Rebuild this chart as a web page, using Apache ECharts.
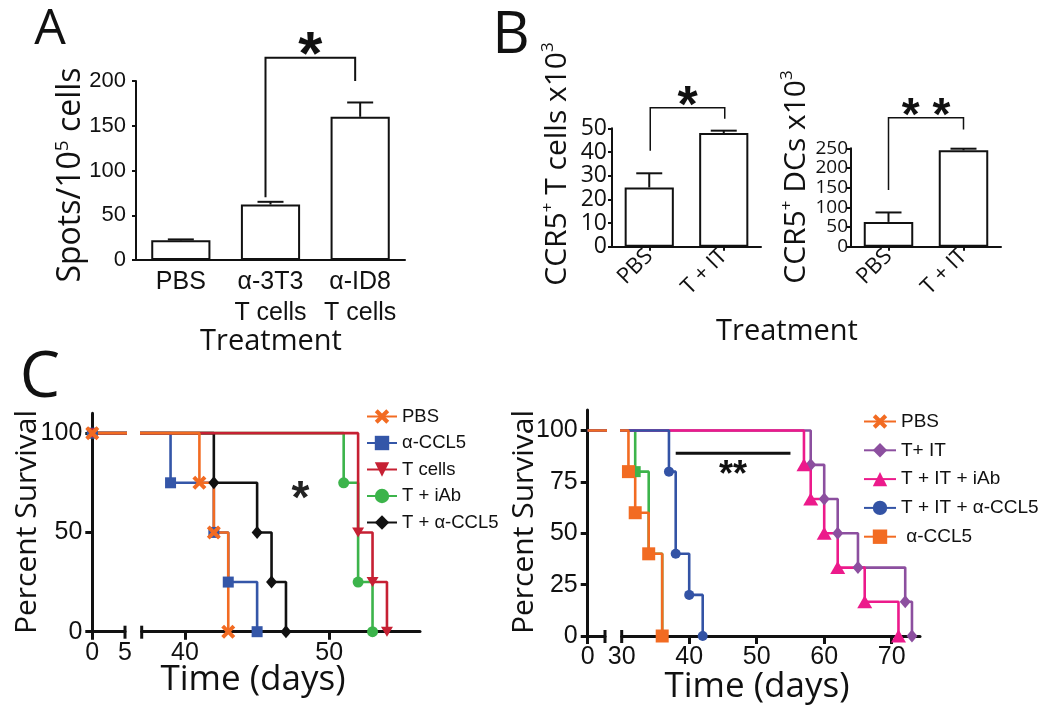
<!DOCTYPE html>
<html>
<head>
<meta charset="utf-8">
<script src="https://cdn.jsdelivr.net/npm/echarts@6/dist/echarts.min.js"></script>
<style>
  html, body { margin: 0; padding: 0; background: #fff; }
  #chart { width: 1050px; height: 717px; }
</style>
</head>
<body>
<div id="chart"></div>
<script>
// ---- panel A: ELISPOT ----
const catsA = ['PBS', 'α-3T3\nT cells', 'α-ID8\nT cells'];
const meanA = [22, 62, 160];
const errTopA = [23, 65, 176];

// ---- panel B: CCR5+ cells ----
const catsB = ['PBS', 'T + IT'];
const meanTcells = [25, 48];
const errTopTcells = [31, 49];
const meanDCs = [63, 245];
const errTopDCs = [87, 249];
const ticksTcells = [0, 10, 20, 30, 40, 50];
const ticksDCs = [0, 50, 100, 150, 200, 250];

// ---- panel C left: survival, [day, percent] ----
const namesCL = ['PBS', 'α-CCL5', 'T cells', 'T + iAb', 'T + α-CCL5'];
const survPBS = [[0, 100], [41, 75], [42, 50], [43, 0]];
const survCCL5 = [[0, 100], [39, 75], [42, 50], [43, 25], [45, 0]];
const survTcells = [[0, 100], [52, 50], [53, 25], [54, 0]];
const survTiAb = [[0, 100], [51, 75], [52, 25], [53, 0]];
const survTCCL5 = [[0, 100], [42, 75], [45, 50], [46, 25], [47, 0]];
const ticksCLy = [0, 50, 100];
const ticksCLx1 = [0, 5];
const ticksCLx2 = [40, 50];

// ---- panel C right ----
const namesCR = ['PBS', 'T+ IT', 'T + IT + iAb', 'T + IT + α-CCL5', ' α-CCL5'];
const survR_PBS = [[0, 100], [32, 80], [34, 40], [36, 0]];
const survR_TIT = [[0, 100], [58, 83.3], [60, 66.7], [62, 50], [65, 33.3], [72, 16.7], [73, 0]];
const survR_TITiAb = [[0, 100], [57, 83.3], [58, 66.7], [60, 50], [62, 33.3], [66, 16.7], [71, 0]];
const survR_TITCCL5 = [[0, 100], [37, 80], [38, 40], [40, 20], [42, 0]];
const survR_CCL5 = [[0, 100], [31, 80], [32, 60], [34, 40], [36, 0]];
const ticksCRy = [0, 25, 50, 75, 100];
const ticksCRx2 = [30, 40, 50, 60, 70];

const INK = '#111';
const ARIAL = 'Liberation Sans';
const MYRIAD = 'Open Sans';

const X_PATH = 'path://M0,2 L2,0 L5,3 L8,0 L10,2 L7,5 L10,8 L8,10 L5,7 L2,10 L0,8 L3,5 Z';
const TRI_DOWN = 'path://M0,0 L10,0 L5,9 Z';

const chart = echarts.init(document.getElementById('chart'), null, { renderer: 'canvas' });

function barYAxis(gi, max, ticks, fontSize, family, margin) {
  return {
    gridIndex: gi, type: 'value', min: 0, max: max,
    axisLine: { show: true, lineStyle: { color: INK, width: 2 } },
    axisTick: { show: true, length: 4, customValues: ticks, lineStyle: { color: INK, width: 2 } },
    splitLine: { show: false },
    axisLabel: { customValues: ticks, color: INK, fontSize: fontSize, fontFamily: family, margin: margin, lineHeight: fontSize * 0.85, hideOverlap: false }
  };
}

function catXAxis(gi, cats, opts) {
  return Object.assign({
    gridIndex: gi, type: 'category', data: cats,
    axisLine: { lineStyle: { color: INK, width: 2 } },
    axisTick: { show: false },
    splitLine: { show: false }
  }, opts);
}

function survXAxis(gi, min, max, tickVals, labelVals) {
  return {
    gridIndex: gi, type: 'value', min: min, max: max,
    axisLine: { lineStyle: { color: INK, width: 3 } },
    axisTick: { show: true, length: 8, customValues: tickVals, lineStyle: { color: INK, width: 3 } },
    axisLabel: { customValues: labelVals, color: INK, fontSize: 25, fontFamily: ARIAL, margin: 9 },
    splitLine: { show: false }
  };
}

function survYAxis(gi, vals, visible) {
  return {
    gridIndex: gi, type: 'value', min: 0, max: 110, show: visible,
    axisLine: { show: true, lineStyle: { color: INK, width: 3 } },
    axisTick: { show: true, length: 7, customValues: vals, lineStyle: { color: INK, width: 3 } },
    axisLabel: { customValues: vals, color: INK, fontSize: 25, fontFamily: ARIAL, margin: 10 },
    splitLine: { show: false }
  };
}

function barSeries(i, values) {
  return {
    type: 'bar', xAxisIndex: i, yAxisIndex: i, data: values, barWidth: '66%',
    itemStyle: { color: '#fff', borderColor: INK, borderWidth: 2 }, z: 2
  };
}

function errorBars(i, means, tops) {
  return {
    type: 'custom', xAxisIndex: i, yAxisIndex: i, clip: false, silent: true, z: 3,
    data: means.map((m, k) => [k, m, tops[k]]),
    encode: { x: 0, y: 1 },
    renderItem: (params, api) => {
      const base = api.coord([api.value(0), api.value(1)]);
      const top = api.coord([api.value(0), api.value(2)]);
      const st = { stroke: INK, lineWidth: 2 };
      return {
        type: 'group', children: [
          { type: 'line', shape: { x1: base[0], y1: base[1], x2: top[0], y2: top[1] }, style: st },
          { type: 'line', shape: { x1: top[0] - 13, y1: top[1], x2: top[0] + 13, y2: top[1] }, style: st }
        ]
      };
    }
  };
}

// significance bracket: [xLeft, yLeftEnd, xRight, yRightEnd, yTop]
function bracket(i, row, label, fontSize, dx, lift, lw) {
  return {
    type: 'custom', xAxisIndex: i, yAxisIndex: i, clip: false, silent: true, z: 4,
    data: [row],
    encode: { x: 0, y: 1 },
    renderItem: (params, api) => {
      const l0 = api.coord([api.value(0), api.value(1)]);
      const r0 = api.coord([api.value(2), api.value(3)]);
      const lt = api.coord([api.value(0), api.value(4)]);
      const rt = api.coord([api.value(2), api.value(4)]);
      const pts = [[l0[0] + dx, l0[1]], [lt[0] + dx, lt[1]], [rt[0] + dx, rt[1]], [r0[0] + dx, r0[1]]];
      return {
        type: 'group', children: [
          { type: 'polyline', shape: { points: pts }, style: { stroke: INK, lineWidth: lw, fill: null } },
          {
            type: 'text', x: (lt[0] + rt[0]) / 2 + dx, y: lt[1] - lift,
            style: { text: label, font: 'bold ' + fontSize + 'px ' + ARIAL, fill: INK, align: 'center', verticalAlign: 'middle' }
          }
        ]
      };
    }
  };
}

function starText(i, x, y, label, fontSize) {
  return {
    type: 'custom', xAxisIndex: i, yAxisIndex: i, clip: false, silent: true, z: 4,
    data: [[x, y]],
    renderItem: (params, api) => {
      const p = api.coord([api.value(0), api.value(1)]);
      return {
        type: 'text', x: p[0], y: p[1] + fontSize * 0.22,
        style: { text: label, font: 'bold ' + fontSize + 'px ' + ARIAL, fill: '#222', align: 'center', verticalAlign: 'middle' }
      };
    }
  };
}

function breakCaps(i, xs) {
  return {
    type: 'custom', xAxisIndex: i, yAxisIndex: i, clip: false, silent: true, z: 6,
    data: xs.map(x => [x, 0]),
    renderItem: (params, api) => {
      const p = api.coord([api.value(0), 0]);
      return { type: 'line', shape: { x1: p[0], y1: p[1] - 6, x2: p[0], y2: p[1] + 7 }, style: { stroke: INK, lineWidth: 3 } };
    }
  };
}

function buildSurv(defs, axisBase) {
  const list = [];
  defs.forEach(d => {
    [0, 1].forEach(seg => {
      const idx = axisBase + seg;
      list.push({
        type: 'line', name: d.name, xAxisIndex: idx, yAxisIndex: idx,
        step: 'end', clip: true,
        data: d.data.map((p, k) => (k === 0 && d.hideFirst) ? { value: p, symbol: 'none' } : p),
        symbol: d.symbol, symbolSize: d.size, symbolKeepAspect: true, showSymbol: true,
        lineStyle: { color: d.color, width: 2.6 },
        itemStyle: { color: d.color },
        z: 3
      });
    });
  });
  return list;
}

// draw order bottom -> top
const leftDefs = [
  { name: 'T + iAb', data: survTiAb, color: '#3cb44b', symbol: 'circle', size: 11 },
  { name: 'T + α-CCL5', data: survTCCL5, color: '#111111', symbol: 'diamond', size: [11, 13] },
  { name: 'α-CCL5', data: survCCL5, color: '#3456a8', symbol: 'rect', size: 11 },
  { name: 'T cells', data: survTcells, color: '#c62033', symbol: TRI_DOWN, size: [12, 11] },
  { name: 'PBS', data: survPBS, color: '#f26b22', symbol: X_PATH, size: 14 }
];
const rightDefs = [
  { name: 'PBS', data: survR_PBS, color: '#3cb44b', symbol: 'rect', size: 11, hideFirst: true },
  { name: 'T+ IT', data: survR_TIT, color: '#8c4f9f', symbol: 'diamond', size: [11, 13], hideFirst: true },
  { name: 'T + IT + iAb', data: survR_TITiAb, color: '#ec1a8b', symbol: 'triangle', size: [15, 13], hideFirst: true },
  { name: 'T + IT + α-CCL5', data: survR_TITCCL5, color: '#3353a5', symbol: 'circle', size: 10, hideFirst: true },
  { name: ' α-CCL5', data: survR_CCL5, color: '#f26b22', symbol: 'rect', size: 13, hideFirst: true }
];

const option = {
  animation: false,
  backgroundColor: '#fff',
  grid: [
    { left: 136, top: 81, width: 269, height: 179, outerBoundsMode: 'none' },
    { left: 612, top: 128.3, width: 149, height: 118.4, outerBoundsMode: 'none' },
    { left: 851, top: 148.3, width: 150, height: 98.4, outerBoundsMode: 'none' },
    { left: 92.3, top: 413.3, width: 32.7, height: 218.4, outerBoundsMode: 'none' },
    { left: 141.7, top: 413.3, width: 278.3, height: 218.4, outerBoundsMode: 'none' },
    { left: 587.7, top: 410, width: 17.3, height: 226, outerBoundsMode: 'none' },
    { left: 621.7, top: 410, width: 298.3, height: 226, outerBoundsMode: 'none' }
  ],
  xAxis: [
    catXAxis(0, catsA, {
      axisLabel: { color: INK, fontSize: 25, fontFamily: ARIAL, lineHeight: 31, margin: 7, interval: 0 }
    }),
    catXAxis(1, catsB, {
      axisTick: { show: true, alignWithLabel: true, length: 4, lineStyle: { color: INK, width: 2 } },
      axisLabel: { color: INK, fontSize: 22, fontFamily: MYRIAD, rotate: 45, margin: 6, interval: 0 }
    }),
    catXAxis(2, catsB, {
      axisTick: { show: true, alignWithLabel: true, length: 4, lineStyle: { color: INK, width: 2 } },
      axisLabel: { color: INK, fontSize: 22, fontFamily: MYRIAD, rotate: 45, margin: 6, interval: 0 }
    }),
    survXAxis(3, 0, 5, [0], ticksCLx1),
    survXAxis(4, 37, 56.29, ticksCLx2, ticksCLx2),
    survXAxis(5, 0, 2.563, [0], [0]),
    survXAxis(6, 30, 74.19, [40, 50, 60, 70], ticksCRx2)
  ],
  yAxis: [
    barYAxis(0, 200, [0, 50, 100, 150, 200], 22, ARIAL, 10),
    barYAxis(1, 50, ticksTcells, 23, MYRIAD, 5),
    barYAxis(2, 250, ticksDCs, 19, MYRIAD, 3),
    survYAxis(3, ticksCLy, true),
    survYAxis(4, ticksCLy, false),
    survYAxis(5, ticksCRy, true),
    survYAxis(6, ticksCRy, false)
  ],
  legend: [
    {
      data: namesCL, left: 361, top: 402, orient: 'vertical', selectedMode: false,
      itemWidth: 30, itemHeight: 18, itemGap: 7.5,
      textStyle: { color: INK, fontSize: 18.5, fontFamily: ARIAL, lineHeight: 18 }
    },
    {
      data: namesCR, left: 858, top: 407, orient: 'vertical', selectedMode: false,
      itemWidth: 32, itemHeight: 18, itemGap: 9.8,
      textStyle: { color: INK, fontSize: 19, fontFamily: ARIAL, lineHeight: 18 }
    }
  ],
  graphic: [
    { type: 'text', x: 50, y: 30, style: { text: 'A', font: '50px ' + MYRIAD, fill: INK, align: 'center', verticalAlign: 'middle' } },
    { type: 'text', x: 511, y: 36, style: { text: 'B', font: '58px ' + MYRIAD, fill: INK, align: 'center', verticalAlign: 'middle' } },
    { type: 'text', x: 40, y: 379, style: { text: 'C', font: '64px ' + MYRIAD, fill: INK, align: 'center', verticalAlign: 'middle' } },
    { type: 'text', x: 271, y: 342, style: { text: 'Treatment', font: '29px ' + MYRIAD, fill: INK, align: 'center', verticalAlign: 'middle' } },
    { type: 'text', x: 787, y: 332, style: { text: 'Treatment', font: '29px ' + MYRIAD, fill: INK, align: 'center', verticalAlign: 'middle' } },
    { type: 'text', x: 253, y: 680, style: { text: 'Time (days)', font: '35px ' + MYRIAD, fill: INK, align: 'center', verticalAlign: 'middle' } },
    { type: 'text', x: 757, y: 687, style: { text: 'Time (days)', font: '35px ' + MYRIAD, fill: INK, align: 'center', verticalAlign: 'middle' } },
    {
      type: 'text', x: 71, y: 175, rotation: Math.PI / 2,
      style: {
        text: '{b|Spots/10}{s|5}{b| cells}', align: 'center', verticalAlign: 'middle', fill: INK,
        rich: { b: { fontSize: 32, fontFamily: MYRIAD, lineHeight: 36 }, s: { fontSize: 19, fontFamily: MYRIAD, lineHeight: 20, verticalAlign: 'top' } }
      }
    },
    {
      type: 'text', x: 557, y: 164, rotation: Math.PI / 2,
      style: {
        text: '{b|CCR5}{s|+}{b| T cells x10}{s|3}', align: 'center', verticalAlign: 'middle', fill: INK,
        rich: { b: { fontSize: 30, fontFamily: MYRIAD, lineHeight: 34 }, s: { fontSize: 17, fontFamily: MYRIAD, lineHeight: 18, verticalAlign: 'top' } }
      }
    },
    {
      type: 'text', x: 796, y: 177, rotation: Math.PI / 2,
      style: {
        text: '{b|CCR5}{s|+}{b| DCs x10}{s|3}', align: 'center', verticalAlign: 'middle', fill: INK,
        rich: { b: { fontSize: 30, fontFamily: MYRIAD, lineHeight: 34 }, s: { fontSize: 17, fontFamily: MYRIAD, lineHeight: 18, verticalAlign: 'top' } }
      }
    },
    { type: 'text', x: 27, y: 522, rotation: Math.PI / 2, style: { text: 'Percent Survival', font: '30px ' + MYRIAD, fill: INK, align: 'center', verticalAlign: 'middle' } },
    { type: 'text', x: 524, y: 522, rotation: Math.PI / 2, style: { text: 'Percent Survival', font: '30px ' + MYRIAD, fill: INK, align: 'center', verticalAlign: 'middle' } }
  ],
  series: [
    barSeries(0, meanA),
    errorBars(0, meanA, errTopA),
    bracket(0, [1, 70, 2, 200, 226], '*', 62, -5, 1, 2),
    barSeries(1, meanTcells),
    errorBars(1, meanTcells, errTopTcells),
    bracket(1, [0, 40.5, 1, 54, 58.7], '*', 52, 1, 0, 1.5),
    barSeries(2, meanDCs),
    errorBars(2, meanDCs, errTopDCs),
    bracket(2, [0, 144, 1, 298, 327.7], '* *', 46, 0, 0, 1.5),
    ...buildSurv(leftDefs, 3),
    breakCaps(3, [5]),
    breakCaps(4, [37]),
    starText(4, 48, 71.4, '*', 46),
    ...buildSurv(rightDefs, 5),
    breakCaps(5, [2.563]),
    breakCaps(6, [30]),
    bracket(6, [38, 89, 55, 89, 89], '**', 36, 0, -23, 3)
  ]
};

chart.setOption(option);
</script>
</body>
</html>
